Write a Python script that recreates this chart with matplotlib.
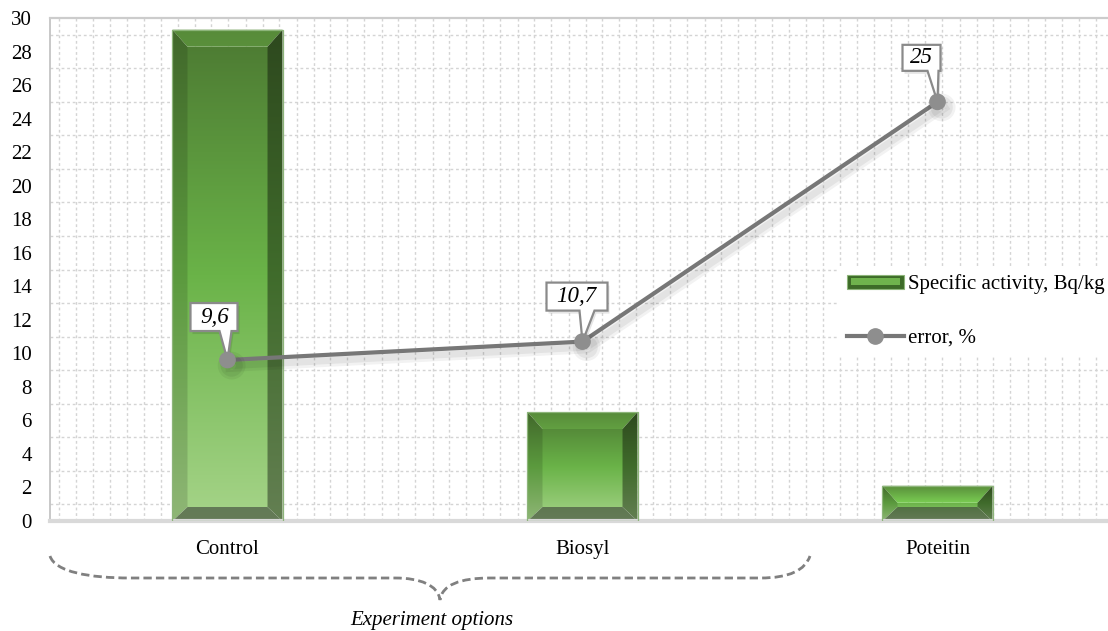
import matplotlib
matplotlib.use('Agg')
import matplotlib.pyplot as plt
import numpy as np
from matplotlib.patches import Polygon, Rectangle, PathPatch
from matplotlib.path import Path
import matplotlib.transforms as mtransforms
import matplotlib.patheffects as pe
from matplotlib.colors import LinearSegmentedColormap
from matplotlib.legend_handler import HandlerBase
from matplotlib.lines import Line2D

# ---------------- data ----------------
categories = ['Control', 'Biosyl', 'Poteitin']
activity = [29.3, 6.5, 2.1]            # Specific activity, Bq/kg
error_pct = [9.6, 10.7, 25]            # error, %
error_labels = ['9,6', '10,7', '25']
y_ticks = list(range(0, 31, 2))
series_names = ['Specific activity, Bq/kg', 'error, %']
axis_note = 'Experiment options'

# ---------------- styling ----------------
plt.rcParams['font.family'] = ['Liberation Serif', 'DejaVu Serif']
W, H = 1108, 631
fig = plt.figure(figsize=(W / 100, H / 100), dpi=100)
ax = fig.add_axes([50 / W, 1 - 521 / H, 1065 / W, 503 / H])

x = np.arange(len(categories))
ax.set_xlim(-0.5, len(categories) - 0.5)
ax.set_ylim(0, 30)

# grid (dotted, every unit horizontally, ~17px vertically)
step = 17 / 355
ax.set_yticks(y_ticks)
ax.set_yticks(np.arange(0, 31, 1), minor=True)
ax.set_xticks(x, categories)
ax.set_xticks(np.arange(-0.5 + 0.5 * step, len(categories) - 0.5, step), minor=True)
ax.grid(False, which='major')
ax.grid(True, which='minor', axis='both', color='#d4d4d4', lw=1.0, ls=(0, (2, 2)))
ax.set_axisbelow(True)
ax.tick_params(which='both', length=0)
ax.tick_params(axis='y', labelsize=15, pad=13)
ax.tick_params(axis='x', labelsize=15, pad=14)

ax.spines['right'].set_visible(False)
ax.spines['left'].set_color('#bfbfbf')
ax.spines['left'].set_linewidth(1.2)
ax.spines['top'].set_color('#cccccc')
ax.spines['top'].set_linewidth(1.6)
ax.spines['bottom'].set_color('#d9d9d9')
ax.spines['bottom'].set_linewidth(3)

# ---------------- bevelled bars ----------------
cmap = LinearSegmentedColormap.from_list('g', ['#4c7932', '#6ab348', '#a6d489'])
p0 = ax.transData.transform((0, 0))
p1 = ax.transData.transform((1, 1))
sx, sy = p1[0] - p0[0], p1[1] - p0[1]
bar_w = 0.31
grad = np.linspace(0, 1, 256).reshape(-1, 1)
base_rgb = cmap(grad)[..., :3]


def shaded(factor, gray=0.0):
    c = base_rgb * factor
    if gray:
        c = c * (1 - gray) + np.array([0.38, 0.42, 0.36]) * gray
    return np.clip(c, 0, 1)


for xc, h in zip(x, activity):
    x0, x1 = xc - bar_w / 2, xc + bar_w / 2
    dx = 15 / sx
    db = min(14 / sy, h * 0.4)
    dt = min(17 / sy, h - db - 3 / sy)
    parts = {
        'face': ([(x0 + dx, db), (x1 - dx, db), (x1 - dx, h - dt), (x0 + dx, h - dt)], shaded(1.0)),
        'top': ([(x0, h), (x1, h), (x1 - dx, h - dt), (x0 + dx, h - dt)], shaded(1.15)),
        'left': ([(x0, 0), (x0 + dx, db), (x0 + dx, h - dt), (x0, h)], shaded(0.86)),
        'right': ([(x1, 0), (x1, h), (x1 - dx, h - dt), (x1 - dx, db)], shaded(0.6)),
        'bottom': ([(x0, 0), (x0 + dx, db), (x1 - dx, db), (x1, 0)], shaded(0.62, gray=0.35)),
    }
    for name, (verts, img) in parts.items():
        poly = Polygon(verts, closed=True, transform=ax.transData)
        im = ax.imshow(img, extent=[x0, x1, 0, h], aspect='auto', origin='upper',
                       zorder=2, interpolation='bilinear')
        im.set_clip_path(poly)
    ax.add_patch(Rectangle((x0, 0), bar_w, h, fill=False, ec='#8db57a', lw=0.9, zorder=3))

ax.set_xlim(-0.5, len(categories) - 0.5)
ax.set_ylim(0, 30)

# ---------------- error line ----------------
line_color = '#777777'
marker_color = '#8e8e8e'
ax.plot(x, error_pct, color=line_color, lw=3, marker='o', ms=11,
        mfc=marker_color, mec=marker_color, zorder=6,
        path_effects=[pe.SimpleLineShadow(offset=(3, -4), shadow_color='black',
                                          alpha=0.05, linewidth=9),
                      pe.SimpleLineShadow(offset=(3, -4), shadow_color='black',
                                          alpha=0.06, linewidth=5),
                      pe.Normal()])

# ---------------- callouts ----------------
# (left, right, bottom, top, pointer_left, pointer_right, text_x, text_y) in px offsets
callout_geom = [
    (-37, 10, 29, 57, -8, 4, -13, 43),
    (-36, 25, 31, 59, -3, 12, -6, 45),
    (-35, 3, 31, 57, -10, 1, -16, 44),
]
for xi, yi, lab, g in zip(x, error_pct, error_labels, callout_geom):
    L, R, B, T, pl, pr, tx, ty = [v / 100 for v in g]
    tr = fig.dpi_scale_trans + mtransforms.ScaledTranslation(xi, yi, ax.transData)
    verts = [(L, B), (L, T), (R, T), (R, B), (pr, B), (0, 0), (pl, B)]
    sh_tr = tr + mtransforms.Affine2D().translate(2, -3)
    ax.add_patch(Polygon(verts, closed=True, fc='#000000', alpha=0.10, ec='none',
                         transform=sh_tr, zorder=4.5))
    ax.add_patch(Polygon(verts, closed=True, fc='white', ec='#8a8a8a', lw=1.6,
                         transform=tr, zorder=5))
    ax.text(tx, ty, lab, transform=tr, ha='center', va='center', style='italic',
            fontsize=16.5, zorder=7)


# ---------------- legend ----------------
class BarHandler(HandlerBase):
    def create_artists(self, legend, orig_handle, xdescent, ydescent, width, height,
                       fontsize, trans):
        outer = Rectangle((-xdescent, -ydescent), width, height, fc='#3d6b28',
                          ec='#8db57a', lw=0.8, transform=trans)
        inner = Rectangle((-xdescent + width * 0.07, -ydescent + height * 0.25),
                          width * 0.86, height * 0.5, fc='#6fb34d', ec='none',
                          transform=trans)
        return [outer, inner]


bar_proxy = Rectangle((0, 0), 1, 1)
line_proxy = Line2D([], [], color=line_color, lw=3, marker='o', ms=11,
                    mfc=marker_color, mec=marker_color)
leg = ax.legend([bar_proxy, line_proxy], series_names, handler_map={Rectangle: BarHandler()},
                loc='upper left', bbox_to_anchor=(839 / W, 1 - 266 / H),
                bbox_transform=fig.transFigure, frameon=True, facecolor='white',
                edgecolor='none', framealpha=1, fancybox=False, fontsize=15,
                handlelength=2.7, handleheight=0.65, handletextpad=0.2,
                labelspacing=1.65, borderpad=0.4, borderaxespad=0, numpoints=1)
leg.set_zorder(8)

# ---------------- brace + note ----------------
def fp(px, py):
    return (px / W, 1 - py / H)


brace_pts = [fp(50, 556), fp(55, 572), fp(90, 578), fp(130, 578),
             fp(395, 578),
             fp(420, 578), fp(438, 585), fp(440, 600),
             fp(442, 585), fp(460, 578), fp(490, 578),
             fp(760, 578),
             fp(790, 578), fp(805, 570), fp(810, 556)]
codes = [Path.MOVETO, Path.CURVE4, Path.CURVE4, Path.CURVE4,
         Path.LINETO,
         Path.CURVE4, Path.CURVE4, Path.CURVE4,
         Path.CURVE4, Path.CURVE4, Path.CURVE4,
         Path.LINETO,
         Path.CURVE4, Path.CURVE4, Path.CURVE4]
fig.add_artist(PathPatch(Path(brace_pts, codes), transform=fig.transFigure, fill=False,
                         ec='#808080', lw=2, ls=(0, (3, 1.5))))
fig.text(432 / W, 1 - 620 / H, axis_note, ha='center', va='center', style='italic',
         fontsize=15)

fig.savefig('out.png', dpi=100)
